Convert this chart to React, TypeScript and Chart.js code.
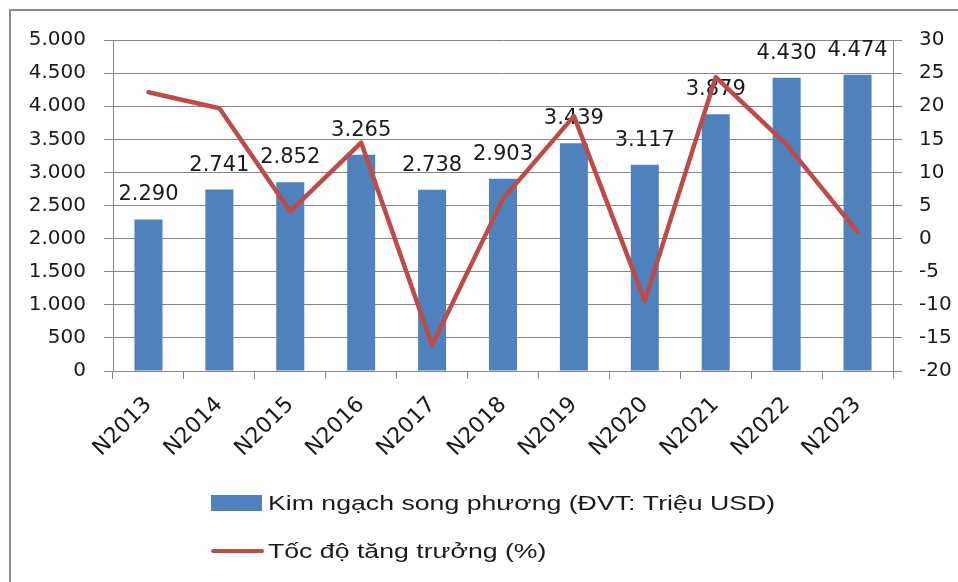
import React, { useEffect, useRef } from "react";
import { Chart, registerables } from "chart.js";

Chart.register(...registerables);

const categories = ["N2013", "N2014", "N2015", "N2016", "N2017", "N2018", "N2019", "N2020", "N2021", "N2022", "N2023"];
const tradeValues = [2290, 2741, 2852, 3265, 2738, 2903, 3439, 3117, 3879, 4430, 4474];
const growthRates = [22.1, 19.7, 4.1, 14.5, -16.1, 6.0, 18.5, -9.4, 24.4, 14.2, 1.0];
const barLabel = "Kim ngạch song phương (ĐVT: Triệu USD)";
const lineLabel = "Tốc độ tăng trưởng (%)";

const BAR_COLOR = "#4F81BD";
const LINE_COLOR = "#BE4B48";
const GRID_COLOR = "#868686";
const TEXT_COLOR = "#1a1a1a";
const TICK_FONT = { family: "'DejaVu Sans'", size: 20 };
const X_TICK_FONT = { family: "'DejaVu Sans'", size: 22 };

const fmt = (v: number) => String(v).replace(/\B(?=(\d{3})+(?!\d))/g, ".");

const framePlugin = {
  id: "frame",
  beforeDraw(chart: any) {
    const ctx = chart.ctx;
    ctx.save();
    ctx.strokeStyle = "#8c8c8c";
    ctx.lineWidth = 2;
    ctx.strokeRect(10, 10, 2000, 2000);
    ctx.restore();
  },
};

const barLabelPlugin = {
  id: "barLabels",
  afterDatasetDraw(chart: any, args: any) {
    if (args.index !== 0) return;
    const ctx = chart.ctx;
    const meta = chart.getDatasetMeta(0);
    const data = chart.data.datasets[0].data;
    ctx.save();
    ctx.font = "21px 'DejaVu Sans'";
    ctx.fillStyle = TEXT_COLOR;
    ctx.textAlign = "center";
    ctx.textBaseline = "alphabetic";
    meta.data.forEach((el: any, i: number) => {
      ctx.fillText(fmt(data[i]), el.x, el.y - 19);
    });
    ctx.restore();
  },
};

const legendPlugin = {
  id: "customLegend",
  afterDraw(chart: any) {
    const ctx = chart.ctx;
    const ds = chart.data.datasets;
    const x0 = 211;
    const boxW = 51;
    const textX = 268;
    const rows = [503, 551];
    const stretch = 1.27;
    ctx.save();
    ctx.fillStyle = ds[0].backgroundColor;
    ctx.fillRect(x0, rows[0] - 8, boxW, 16);
    ctx.strokeStyle = ds[1].borderColor;
    ctx.lineWidth = 4;
    ctx.lineCap = "round";
    ctx.beginPath();
    ctx.moveTo(x0 + 2, rows[1]);
    ctx.lineTo(x0 + boxW, rows[1]);
    ctx.stroke();
    ctx.font = "21px 'Liberation Sans', Arial, sans-serif";
    ctx.fillStyle = TEXT_COLOR;
    ctx.textBaseline = "middle";
    ctx.textAlign = "left";
    ctx.translate(textX, 0);
    ctx.scale(stretch, 1);
    ctx.fillText(ds[0].label, 0, rows[0] + 1);
    ctx.fillText(ds[1].label, 0, rows[1] + 1);
    ctx.restore();
  },
};

export default function App() {
  const ref = useRef<HTMLCanvasElement | null>(null);

  useEffect(() => {
    if (!ref.current) return;
    const chart = new Chart(ref.current, {
      type: "bar",
      data: {
        labels: categories,
        datasets: [
          {
            type: "bar",
            label: barLabel,
            data: tradeValues,
            backgroundColor: BAR_COLOR,
            borderWidth: 0,
            barPercentage: 0.395,
            categoryPercentage: 1,
            yAxisID: "y",
            order: 1,
          },
          {
            type: "line",
            label: lineLabel,
            data: growthRates,
            borderColor: LINE_COLOR,
            backgroundColor: LINE_COLOR,
            borderWidth: 4.5,
            pointRadius: 0,
            tension: 0,
            borderJoinStyle: "round",
            borderCapStyle: "round",
            yAxisID: "y1",
            order: 0,
          } as any,
        ],
      },
      options: {
        responsive: false,
        animation: false,
        devicePixelRatio: 1,
        layout: { padding: { left: 0, right: 0, top: 40, bottom: 111 } },
        plugins: {
          legend: { display: false },
          tooltip: { enabled: false },
        },
        scales: {
          x: {
            grid: {
              display: true,
              drawOnChartArea: false,
              drawTicks: true,
              tickLength: 8,
              color: GRID_COLOR,
              offset: true,
            },
            border: { display: true, color: GRID_COLOR },
            ticks: {
              font: X_TICK_FONT,
              color: TEXT_COLOR,
              minRotation: 45,
              maxRotation: 45,
              padding: 13,
            },
            afterFit(scale: any) {
              scale.height = 100;
            },
          },
          y: {
            position: "left",
            min: 0,
            max: 5000,
            grid: { color: GRID_COLOR, tickLength: 9, drawTicks: true },
            border: { display: true, color: GRID_COLOR },
            ticks: {
              stepSize: 500,
              font: TICK_FONT,
              color: TEXT_COLOR,
              padding: 18,
              callback: (v: any) => fmt(Number(v)),
            },
            afterFit(scale: any) {
              scale.width = 113;
            },
          },
          y1: {
            position: "right",
            min: -20,
            max: 30,
            grid: { drawOnChartArea: false, color: GRID_COLOR, tickLength: 9, drawTicks: true },
            border: { display: true, color: GRID_COLOR },
            ticks: {
              stepSize: 5,
              font: TICK_FONT,
              color: TEXT_COLOR,
              padding: 17,
            },
            afterFit(scale: any) {
              scale.width = 65;
            },
          },
        },
      },
      plugins: [framePlugin, barLabelPlugin, legendPlugin],
    });
    return () => chart.destroy();
  }, []);

  return (
    <canvas
      ref={ref}
      width={958}
      height={582}
      style={{ position: "absolute", left: 0, top: 0, display: "block" }}
    />
  );
}
